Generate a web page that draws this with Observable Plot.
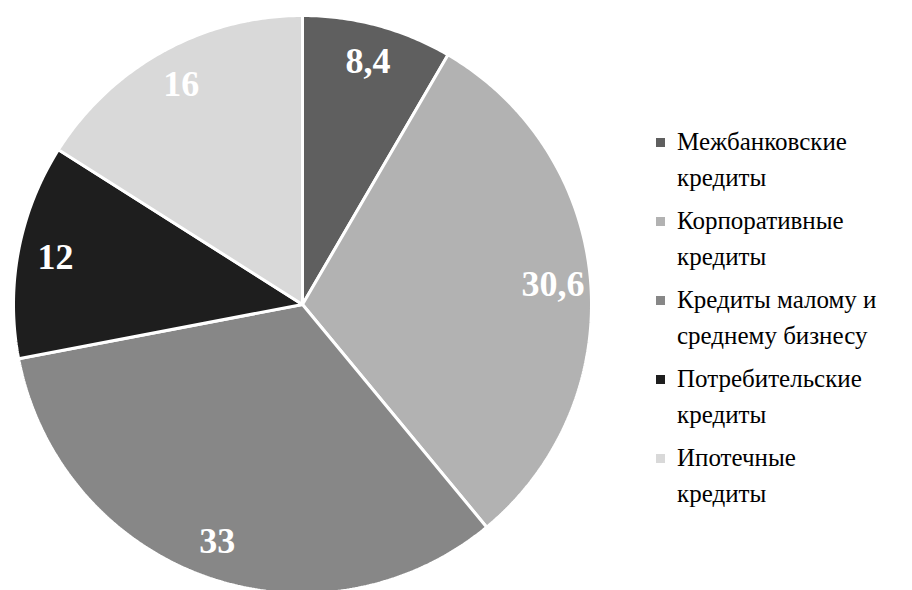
<!DOCTYPE html>
<html>
<head>
<meta charset="utf-8">
<script src="https://cdn.jsdelivr.net/npm/d3@7"></script>
<script src="https://cdn.jsdelivr.net/npm/@observablehq/plot@0.6"></script>
<style>
  html, body { margin: 0; padding: 0; background: #fff; }
  body, body *, svg text { font-family: 'Liberation Serif', 'Times New Roman', serif !important; }
  #wrap { position: relative; width: 912px; height: 590px; overflow: hidden; }
  #legend { position: absolute; left: 652px; top: 124px; font-size: 25px; color: #000; }
  .item { position: relative; padding-left: 25px; line-height: 36px; margin-bottom: 7px; white-space: nowrap; }
  .sw { position: absolute; left: 4px; top: 14px; width: 9px; height: 9px; }
</style>
</head>
<body>
<div id="wrap"><div id="chart"></div><div id="legend"></div></div>
<script>
const categories = ["Межбанковские кредиты", "Корпоративные кредиты", "Кредиты малому и среднему бизнесу", "Потребительские кредиты", "Ипотечные кредиты"];
const legendLines = [["Межбанковские", "кредиты"], ["Корпоративные", "кредиты"], ["Кредиты малому и", "среднему бизнесу"], ["Потребительские", "кредиты"], ["Ипотечные", "кредиты"]];
const values = [8.4, 30.6, 33, 12, 16];
const labels = ["8,4", "30,6", "33", "12", "16"];
const colors = ["#5f5f5f", "#b2b2b2", "#878787", "#1e1e1e", "#d9d9d9"];

const W = 912, H = 590, cx = 302, cy = 304, R = 289;
const serif = "'Liberation Serif', 'Times New Roman', serif";

const pie = d3.pie().sort(null).value(d => d.value)(categories.map((c, i) => ({name: c, value: values[i], label: labels[i]})));

const pts = [];
for (const p of pie) {
  const n = Math.max(2, Math.ceil((p.endAngle - p.startAngle) / 0.01));
  pts.push({name: p.data.name, x: 0, y: 0});
  for (let k = 0; k <= n; k++) {
    const a = p.startAngle + (p.endAngle - p.startAngle) * k / n;
    pts.push({name: p.data.name, x: Math.sin(a), y: Math.cos(a)});
  }
  pts.push({name: p.data.name, x: 0, y: 0});
}
const labelPts = pie.map(p => {
  const a = (p.startAngle + p.endAngle) / 2;
  return {label: p.data.label, x: 0.87 * Math.sin(a), y: 0.87 * Math.cos(a)};
});

const chart = Plot.plot({
  width: W, height: H,
  margin: 0,
  style: {fontFamily: serif},
  x: {domain: [-cx / R, (W - cx) / R], range: [0, W], axis: null},
  y: {domain: [-(H - cy) / R, cy / R], range: [H, 0], axis: null},
  color: {domain: categories, range: colors},
  marks: [
    Plot.line(pts, {x: "x", y: "y", z: "name", fill: "name", stroke: "white", strokeWidth: 3, strokeLinejoin: "miter", curve: "linear"}),
    Plot.text(labelPts, {x: "x", y: "y", text: "label", fill: "white", fontSize: 36, fontWeight: "bold", fontFamily: serif})
  ]
});
document.getElementById("chart").appendChild(chart);

const leg = document.getElementById("legend");
categories.forEach((c, i) => {
  const div = document.createElement("div");
  div.className = "item";
  const sw = document.createElement("span");
  sw.className = "sw";
  sw.style.background = colors[i];
  div.appendChild(sw);
  div.appendChild(document.createTextNode(legendLines[i][0]));
  div.appendChild(document.createElement("br"));
  div.appendChild(document.createTextNode(legendLines[i][1]));
  leg.appendChild(div);
});
</script>
</body>
</html>
